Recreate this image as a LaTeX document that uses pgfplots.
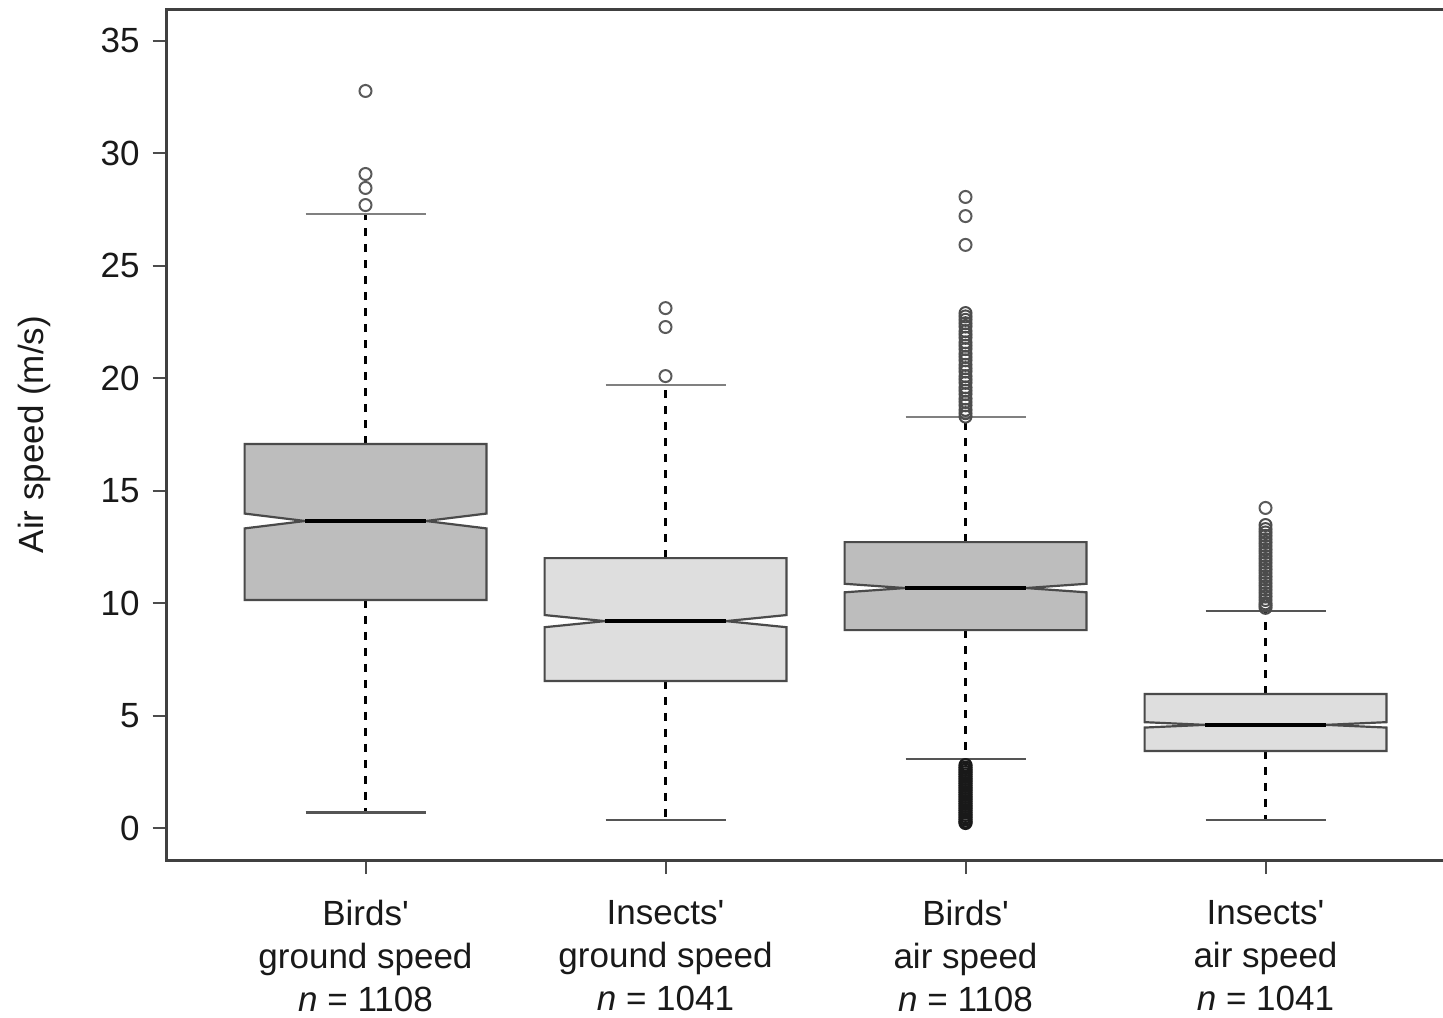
\documentclass[border=0pt]{standalone}
\usepackage{fontspec}
\setmainfont{Liberation Sans}
\usepackage{pgfplots}
\pgfplotsset{compat=1.18}
\definecolor{boxdark}{HTML}{BDBDBD}
\definecolor{boxlight}{HTML}{DEDEDE}
\definecolor{edgec}{HTML}{4A4A4A}
\definecolor{capc}{HTML}{555555}
\definecolor{outc}{HTML}{5A5A5A}
\begin{document}
\begin{tikzpicture}
\begin{axis}[name=ax, scale only axis, width=648pt, height=425.4pt,
  xmin=0.337, xmax=4.657, ymin=-1.41, ymax=36.4,
  tick align=outside, tick pos=left, major tick length=7pt,
  xtick={1,2,3,4},
  xticklabels={{Birds\textquotesingle\\ground speed\\\textit{n}\;=\;1108},
               {Insects\textquotesingle\\ground speed\\\textit{n}\;=\;1041},
               {Birds\textquotesingle\\air speed\\\textit{n}\;=\;1108},
               {Insects\textquotesingle\\air speed\\\textit{n}\;=\;1041}},
  xticklabel style={align=center, yshift=-9.5pt},
  ytick={0,5,...,35},
  yticklabel style={xshift=-3pt},
  /pgf/number format/assume math mode=true,
  tick label style={font=\fontsize{17.5}{21.5}\selectfont, text=black!90},
  every tick/.style={black!70, line width=1pt},
  axis line style={line width=1.4pt, black!75},
  ylabel={Air speed (m/s)},
  ylabel style={at={(axis description cs:-0.1017,0.5)}, anchor=center, font=\fontsize{17.5}{21.5}\selectfont, text=black!90},
  clip=false,
]
% whiskers
\addplot[black, line width=1.2pt, dash pattern=on 4pt off 4pt] coordinates {(1,17.08) (1,27.3)};
\addplot[black, line width=1.2pt, dash pattern=on 4pt off 4pt] coordinates {(1,10.15) (1,0.72)};
\addplot[black, line width=1.2pt, dash pattern=on 4pt off 4pt] coordinates {(2,12.01) (2,19.7)};
\addplot[black, line width=1.2pt, dash pattern=on 4pt off 4pt] coordinates {(2,6.55) (2,0.37)};
\addplot[black, line width=1.2pt, dash pattern=on 4pt off 4pt] coordinates {(3,12.72) (3,18.28)};
\addplot[black, line width=1.2pt, dash pattern=on 4pt off 4pt] coordinates {(3,8.81) (3,3.08)};
\addplot[black, line width=1.2pt, dash pattern=on 4pt off 4pt] coordinates {(4,5.97) (4,9.66)};
\addplot[black, line width=1.2pt, dash pattern=on 4pt off 4pt] coordinates {(4,3.44) (4,0.37)};
% caps
\addplot[capc!75, line width=1.4pt] coordinates {(0.8,27.3) (1.2,27.3)};
\addplot[capc, line width=1.4pt] coordinates {(0.8,0.72) (1.2,0.72)};
\addplot[capc!75, line width=1.4pt] coordinates {(1.8,19.7) (2.2,19.7)};
\addplot[capc, line width=1.4pt] coordinates {(1.8,0.37) (2.2,0.37)};
\addplot[capc!75, line width=1.4pt] coordinates {(2.8,18.28) (3.2,18.28)};
\addplot[capc, line width=1.4pt] coordinates {(2.8,3.08) (3.2,3.08)};
\addplot[capc, line width=1.4pt] coordinates {(3.8,9.66) (4.2,9.66)};
\addplot[capc, line width=1.4pt] coordinates {(3.8,0.37) (4.2,0.37)};
% notched boxes
\addplot[fill=boxdark, draw=edgec, line width=1.1pt] coordinates {
 (0.597,10.15) (1.403,10.15) (1.403,13.33) (1.2015,13.66) (1.403,13.99) (1.403,17.08)
 (0.597,17.08) (0.597,13.99) (0.7985,13.66) (0.597,13.33)} --cycle;
\addplot[fill=boxlight, draw=edgec, line width=1.1pt] coordinates {
 (1.597,6.55) (2.403,6.55) (2.403,8.94) (2.2015,9.21) (2.403,9.48) (2.403,12.01)
 (1.597,12.01) (1.597,9.48) (1.7985,9.21) (1.597,8.94)} --cycle;
\addplot[fill=boxdark, draw=edgec, line width=1.1pt] coordinates {
 (2.597,8.81) (3.403,8.81) (3.403,10.49) (3.2015,10.68) (3.403,10.87) (3.403,12.72)
 (2.597,12.72) (2.597,10.87) (2.7985,10.68) (2.597,10.49)} --cycle;
\addplot[fill=boxlight, draw=edgec, line width=1.1pt] coordinates {
 (3.597,3.44) (4.403,3.44) (4.403,4.48) (4.2015,4.60) (4.403,4.72) (4.403,5.97)
 (3.597,5.97) (3.597,4.72) (3.7985,4.60) (3.597,4.48)} --cycle;
% medians
\addplot[black, line width=2.2pt] coordinates {(0.7985,13.66) (1.2015,13.66)};
\addplot[black, line width=2.2pt] coordinates {(1.7985,9.21) (2.2015,9.21)};
\addplot[black, line width=2.2pt] coordinates {(2.7985,10.68) (3.2015,10.68)};
\addplot[black, line width=2.2pt] coordinates {(3.7985,4.60) (4.2015,4.60)};
% outliers
\addplot[only marks, mark=o, mark size=3pt, mark options={draw=outc, line width=1pt}] coordinates {
 (1,32.77) (1,29.08) (1,28.46) (1,27.7)
 (2,23.12) (2,22.28) (2,20.1)
 (3,28.06) (3,27.21) (3,25.93)
 (4,14.24)};
\addplot[only marks, mark=o, mark size=3pt, mark options={draw=black!70, line width=1pt}] coordinates {
 (3,22.9) (3,22.75) (3,22.6) (3,22.45) (3,22.3) (3,22.1) (3,21.95) (3,21.8) (3,21.6) (3,21.45)
 (3,21.3) (3,21.1) (3,20.95) (3,20.8) (3,20.6) (3,20.45) (3,20.3) (3,20.1) (3,19.95) (3,19.8)
 (3,19.6) (3,19.45) (3,19.3) (3,19.1) (3,18.95) (3,18.8) (3,18.6) (3,18.45) (3,18.3)
 (4,13.48) (4,13.3) (4,13.15) (4,13.0) (4,12.85) (4,12.7) (4,12.55) (4,12.4) (4,12.25) (4,12.1)
 (4,11.95) (4,11.8) (4,11.65) (4,11.5) (4,11.35) (4,11.2) (4,11.05) (4,10.9) (4,10.75) (4,10.6)
 (4,10.45) (4,10.3) (4,10.15) (4,10.0) (4,9.9) (4,9.8)};
\addplot[only marks, mark=o, mark size=3pt, mark options={draw=black!90, line width=1.1pt}] coordinates {
 (3,2.81) (3,2.7) (3,2.6) (3,2.5) (3,2.4) (3,2.3) (3,2.2) (3,2.1) (3,2.0) (3,1.9)
 (3,1.8) (3,1.7) (3,1.6) (3,1.5) (3,1.4) (3,1.3) (3,1.2) (3,1.1) (3,1.0) (3,0.9)
 (3,0.8) (3,0.7) (3,0.6) (3,0.5) (3,0.4) (3,0.3) (3,0.24)};
\end{axis}
\pgfresetboundingbox
\path ([shift={(-83.3pt,-78.5pt)}]ax.south west) rectangle ([shift={(-9.8pt,4.65pt)}]ax.north east);
\end{tikzpicture}
\end{document}
